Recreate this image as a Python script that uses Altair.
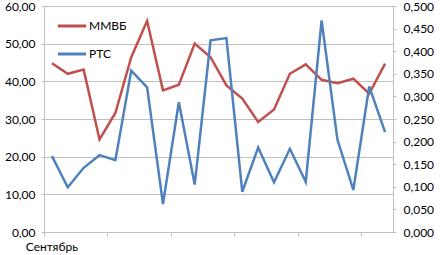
import altair as alt
import pandas as pd

idx = list(range(22))
mmvb = [44.8, 42.0, 43.1, 24.6, 31.6, 46.4, 56.0, 37.6, 39.1, 50.0, 46.4,
        38.9, 35.4, 29.2, 32.5, 42.0, 44.5, 40.4, 39.5, 40.7, 36.7, 44.7]
rts = [0.168, 0.099, 0.142, 0.170, 0.159, 0.357, 0.320, 0.062, 0.287, 0.105, 0.424,
       0.429, 0.089, 0.187, 0.110, 0.184, 0.111, 0.468, 0.204, 0.093, 0.322, 0.221]
series = ["ММВБ", "РТС"]
colors = ["#C0504D", "#4F81BD"]
x_label = ["Сентябрь"]

df1 = pd.DataFrame({"i": idx, "v": mmvb, "s": series[0]})
df2 = pd.DataFrame({"i": idx, "v": rts, "s": series[1]})
dlab = pd.DataFrame({"i": [0], "t": x_label})

FONT = "Lato"
xscale = alt.Scale(domain=[-0.5, 21.5], nice=False, zero=False)
xaxis = alt.Axis(values=[k - 0.5 for k in range(23)], labels=False, grid=False,
                 title=None, domainColor="#BFBFBF", tickColor="#BFBFBF", tickSize=4)
color = alt.Color("s:N", scale=alt.Scale(domain=series, range=colors),
                  legend=alt.Legend(title=None, orient="none", legendX=12, legendY=4,
                                    symbolType="stroke", symbolSize=800, symbolStrokeWidth=3,
                                    labelFont=FONT, labelFontSize=12, labelColor="#000000",
                                    rowPadding=6, labelOffset=1))

left = alt.Chart(df1).mark_line(strokeWidth=2.5).encode(
    x=alt.X("i:Q", scale=xscale, axis=xaxis),
    y=alt.Y("v:Q", scale=alt.Scale(domain=[0, 60], nice=False),
            axis=alt.Axis(values=[0, 10, 20, 30, 40, 50, 60], labelExpr="replace(format(datum.value, '.2f'), '.', ',')",
                          title=None, gridColor="#BFBFBF", domainColor="#BFBFBF", tickColor="#BFBFBF",
                          tickSize=3, labelPadding=6, labelFont=FONT, labelFontSize=12, labelColor="#000000")),
    color=color,
)

right = alt.Chart(df2).mark_line(strokeWidth=2.5).encode(
    x=alt.X("i:Q", scale=xscale, axis=xaxis),
    y=alt.Y("v:Q", scale=alt.Scale(domain=[0, 0.5], nice=False),
            axis=alt.Axis(orient="right", values=[0, 0.05, 0.1, 0.15, 0.2, 0.25, 0.3, 0.35, 0.4, 0.45, 0.5],
                          labelExpr="replace(format(datum.value, '.3f'), '.', ',')",
                          title=None, grid=False, domainColor="#BFBFBF", tickColor="#BFBFBF",
                          tickSize=3, labelPadding=7, labelFont=FONT, labelFontSize=12, labelColor="#000000")),
    color=color,
)

lab = alt.Chart(dlab).mark_text(font=FONT, fontSize=12, color="#000000", baseline="top", dy=0).encode(
    x=alt.X("i:Q", scale=xscale),
    y=alt.value(236),
    text="t:N",
)

chart = alt.layer(left, right, lab).resolve_scale(y="independent").properties(
    width=349, height=226,
    autosize=alt.AutoSizeParams(type="none"),
    padding={"left": 44, "top": 6, "right": 47, "bottom": 23},
).configure_view(stroke=None).configure(background="#FFFFFF")

chart.save("out.html", embed_options={"renderer": "svg", "actions": False})
